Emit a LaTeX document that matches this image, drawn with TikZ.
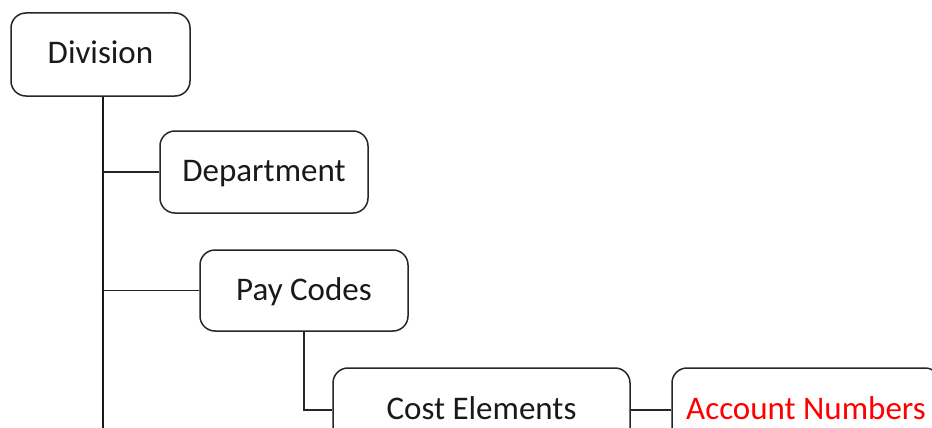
\documentclass[tikz,border=0pt]{standalone}
\usepackage{fontspec}
\setmainfont{Carlito}
\begin{document}
\begin{tikzpicture}[x=1pt,y=-1pt,
  box/.style={draw=black!85, line width=1.5pt, rounded corners=15pt, inner sep=0pt,
    font=\fontsize{33}{39}\selectfont, text=black!90, text height=24pt, text depth=5pt},
  conn/.style={draw=black!85, line width=1.5pt},
  trunk/.style={draw=black!90, line width=2.4pt}]
\clip (0,0) rectangle (932,428);
\fill[white] (0,0) rectangle (932,428);
\node[box, minimum width=179pt, minimum height=83pt] (div) at (100.5,54.5) {Division};
\node[box, minimum width=208pt, minimum height=82pt] (dept) at (264,172) {Department};
\node[box, minimum width=208pt, minimum height=81pt] (pay) at (304,290.5) {Pay Codes};
\node[box, minimum width=297pt, minimum height=84pt] (cost) at (481.5,410) {Cost Elements};
\node[box, minimum width=268pt, minimum height=84pt, text=red] (acct) at (806,410) {Account Numbers};
\coordinate (trunkend) at (103,440);
\draw[trunk] (div.south -| trunkend) -- (trunkend);
\draw[conn] (dept.west) -- (dept.west -| trunkend);
\draw[conn] (pay.west) -- (pay.west -| trunkend);
\draw[conn] (pay.south) |- (cost.west);
\draw[conn] (cost.east) -- (acct.west);
\end{tikzpicture}
\end{document}
